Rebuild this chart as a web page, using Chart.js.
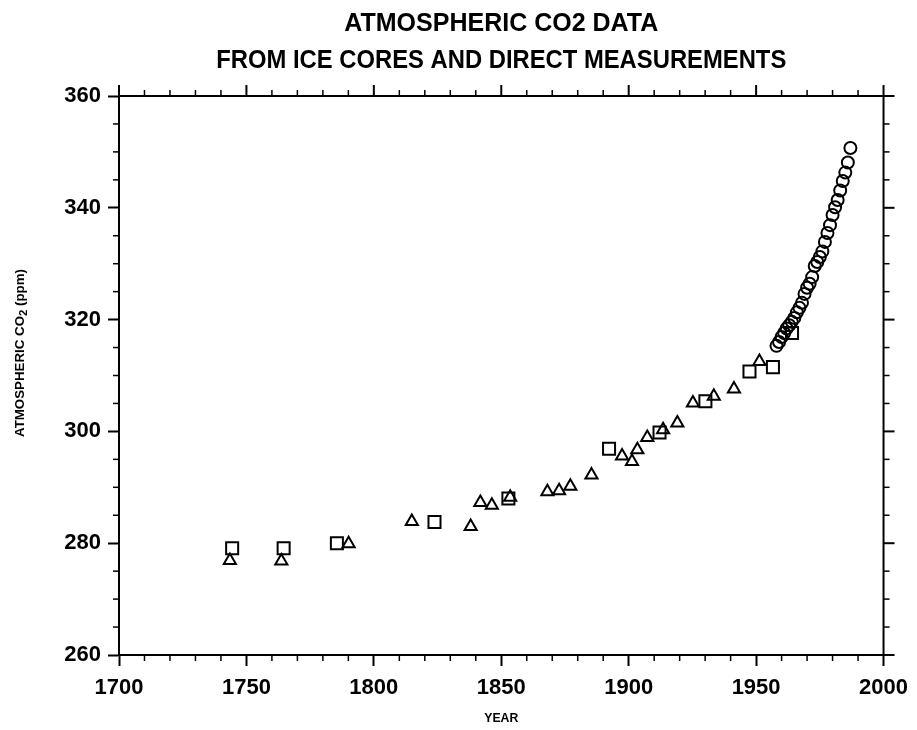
<!DOCTYPE html>
<html><head><meta charset="utf-8">
<script src="https://cdn.jsdelivr.net/npm/chart.js@4/dist/chart.umd.min.js"></script>
<style>html,body{margin:0;padding:0;background:#fff}</style>
</head><body>
<canvas id="c" width="917" height="730"></canvas>
<script>
// ---- data ----
const titleLines = ["ATMOSPHERIC CO2 DATA", "FROM ICE CORES AND DIRECT MEASUREMENTS"];
const xAxisTitle = "YEAR";
const yAxisTitleMain = "ATMOSPHERIC CO";
const yAxisTitleSub = "2";
const yAxisTitleUnit = " (ppm)";
const xTickLabels = [1700, 1750, 1800, 1850, 1900, 1950, 2000];
const yTickLabels = [260, 280, 300, 320, 340, 360];

// ice core (squares)
const squareYears = [1744.4, 1764.6, 1785.5, 1823.8, 1852.8, 1892.3, 1912.1, 1930.1, 1947.4, 1956.6, 1964.1];
const squareCO2   = [279.1, 279.1, 280.0, 283.8, 288.0, 296.9, 299.8, 305.4, 310.7, 311.5, 317.6];
// ice core (triangles)
const triYears = [1743.5, 1763.7, 1790.1, 1814.9, 1838.0, 1841.8, 1846.3, 1853.5, 1868.1, 1872.7, 1877.1, 1885.4, 1897.4, 1901.3, 1903.4, 1907.3, 1913.5, 1919.1, 1925.2, 1933.4, 1941.3, 1951.3];
const triCO2   = [276.9, 276.8, 279.9, 283.9, 283.0, 287.3, 286.8, 288.2, 289.2, 289.4, 290.2, 292.2, 295.6, 294.6, 296.7, 298.9, 300.3, 301.5, 305.1, 306.3, 307.6, 312.5];
// direct measurements (circles)
const circleYears = [1958,1959,1960,1961,1962,1963,1964,1965,1966,1967,1968,1969,1970,1971,1972,1973,1974,1975,1976,1977,1978,1979,1980,1981,1982,1983,1984,1985,1986,1987];
const circleCO2   = [315.3,316.0,316.9,317.6,318.4,319.0,319.6,320.3,321.3,322.1,323.0,324.6,325.7,326.4,327.6,329.6,330.3,331.2,332.2,333.9,335.5,336.9,338.7,340.1,341.4,343.1,344.8,346.3,348.1,350.7];

const toPts = (xs, ys) => xs.map((v, i) => ({x: v, y: ys[i]}));

const FONT = '"Liberation Sans", Arial, Helvetica, sans-serif';

const frame = {
  id: 'frame',
  afterDraw(chart) {
    const {ctx, chartArea: a, scales: {x, y}} = chart;
    ctx.save();
    ctx.strokeStyle = '#000';
    ctx.lineCap = 'butt';
    const line = (x1, y1, x2, y2) => { ctx.beginPath(); ctx.moveTo(x1, y1); ctx.lineTo(x2, y2); ctx.stroke(); };
    ctx.lineWidth = 2;
    line(a.left, a.top, a.right + 1, a.top);
    line(a.right, a.top, a.right, a.bottom);
    // major ticks top & right (outward)
    xTickLabels.forEach(v => { const p = x.getPixelForValue(v); line(p, a.top, p, a.top - 11); });
    yTickLabels.forEach(v => { const p = y.getPixelForValue(v); line(a.right, p, a.right + 11, p); });
    // minor ticks
    ctx.lineWidth = 1.5;
    for (let v = x.min + 10; v < x.max; v += 10) {
      if (v % 50 === 0) continue;
      const p = x.getPixelForValue(v);
      line(p, a.bottom, p, a.bottom + 6);
      line(p, a.top, p, a.top - 6);
    }
    for (let v = y.min + 5; v < y.max; v += 5) {
      if (v % 20 === 0) continue;
      const p = y.getPixelForValue(v);
      line(a.left, p, a.left - 6, p);
      line(a.right, p, a.right + 6, p);
    }
    // titles
    ctx.fillStyle = '#000';
    ctx.textAlign = 'center';
    ctx.textBaseline = 'middle';
    const cx = (a.left + a.right) / 2;
    ctx.font = 'bold 25px ' + FONT;
    ctx.fillText(titleLines[0], cx, 24, 316);
    ctx.fillText(titleLines[1], cx, 61, 570);
    ctx.font = 'bold 13px ' + FONT;
    ctx.fillText(xAxisTitle, cx, 718, 34);
    // y axis title with subscript
    ctx.save();
    ctx.translate(20, 353);
    ctx.rotate(-Math.PI / 2);
    ctx.font = 'bold 13px ' + FONT;
    const w1 = ctx.measureText(yAxisTitleMain).width;
    ctx.font = 'bold 11px ' + FONT;
    const w2 = ctx.measureText(yAxisTitleSub).width;
    ctx.font = 'bold 13px ' + FONT;
    const w3 = ctx.measureText(yAxisTitleUnit).width;
    const total = w1 + w2 + w3;
    const target = 168;
    ctx.scale(target / total, 1);
    let sx = -total / 2;
    ctx.textAlign = 'left';
    ctx.fillText(yAxisTitleMain, sx, 0);
    sx += w1;
    ctx.font = 'bold 11px ' + FONT;
    ctx.fillText(yAxisTitleSub, sx, 4);
    sx += w2;
    ctx.font = 'bold 13px ' + FONT;
    ctx.fillText(yAxisTitleUnit, sx, 0);
    ctx.restore();
    ctx.restore();
  }
};

const common = {
  showLine: false,
  borderColor: '#000',
  backgroundColor: 'rgba(255,255,255,0)',
  borderWidth: 2,
};

new Chart(document.getElementById('c'), {
  type: 'scatter',
  data: {
    datasets: [
      Object.assign({label: 'Ice core (squares)', data: toPts(squareYears, squareCO2), pointStyle: 'rect', pointRadius: 8.5}, common),
      Object.assign({label: 'Ice core (triangles)', data: toPts(triYears, triCO2), pointStyle: 'triangle', pointRadius: 7}, common),
      Object.assign({label: 'Direct measurements', data: toPts(circleYears, circleCO2), pointStyle: 'circle', pointRadius: 6}, common),
    ]
  },
  options: {
    responsive: false,
    animation: false,
    devicePixelRatio: 1,
    layout: {padding: {left: 0, right: 33, top: 96, bottom: 0}},
    plugins: {legend: {display: false}, tooltip: {enabled: false}, title: {display: false}},
    scales: {
      x: {
        type: 'linear', min: 1700, max: 2000,
        afterBuildTicks: s => { s.ticks = xTickLabels.map(v => ({value: v})); },
        afterFit: s => { s.height = 75; },
        ticks: {color: '#000', font: {family: FONT, size: 22, weight: 'bold'}, padding: 9, maxRotation: 0, callback: v => String(v)},
        grid: {display: true, drawOnChartArea: false, drawTicks: true, tickLength: 11, tickColor: '#000', tickWidth: 2, color: '#000'},
        border: {display: true, color: '#000', width: 2}
      },
      y: {
        type: 'linear', min: 260, max: 360,
        afterBuildTicks: s => { s.ticks = yTickLabels.map(v => ({value: v})); },
        afterFit: s => { s.width = 119; },
        ticks: {color: '#000', font: {family: FONT, size: 22, weight: 'bold'}, padding: 7, callback: v => String(v)},
        grid: {display: true, drawOnChartArea: false, drawTicks: true, tickLength: 11, tickColor: '#000', tickWidth: 2, color: '#000'},
        border: {display: true, color: '#000', width: 2}
      }
    }
  },
  plugins: [frame]
});
</script>
</body></html>
